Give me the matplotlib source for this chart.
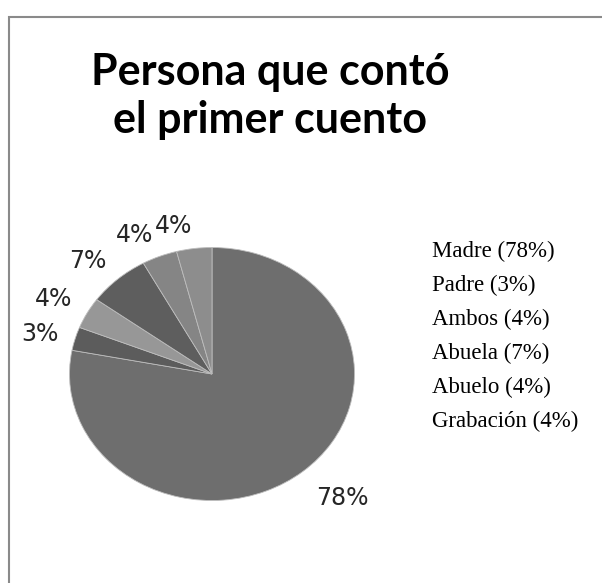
import numpy as np
import matplotlib.pyplot as plt
from matplotlib.patches import Rectangle

# share of people who told the first story
personas = ["Madre", "Padre", "Ambos", "Abuela", "Abuelo", "Grabación"]
porcentajes = [78, 3, 4, 7, 4, 4]
colores = ["#6e6e6e", "#5c5c5c", "#979797", "#5e5e5e", "#858585", "#8d8d8d"]
titulo = "Persona que contó\nel primer cuento"

W, H = 602, 583
fig = plt.figure(figsize=(W / 100, H / 100), dpi=100)
fig.patch.set_facecolor("white")

# chart border, open to the right and bottom
fig.patches.append(Rectangle((8.5 / W, -0.1), 1.2, 1.1 - 16.5 / H,
                             transform=fig.transFigure, fill=False,
                             edgecolor="#8a8a8a", linewidth=1.5))

fig.text(270 / W, 1 - 96 / H, titulo, ha="center", va="center",
         fontsize=31, fontweight="bold", family="Lato", color="black",
         linespacing=1.22)

# pie is slightly flattened, so the axes is not square
cx, cy, rx, ry = 212, 374, 142.5, 126.5
ax = fig.add_axes([(cx - rx) / W, (H - cy - ry) / H, 2 * rx / W, 2 * ry / H])
wedges, _ = ax.pie(porcentajes, colors=colores, startangle=90,
                   counterclock=False, radius=1,
                   wedgeprops=dict(edgecolor="#bdbdbd", linewidth=0.6))
ax.set_xlim(-1, 1)
ax.set_ylim(-1, 1)
ax.set_aspect("auto")
ax.axis("off")

# outside labels: nearest corner of the text sits just off the rim
for w, v in zip(wedges, porcentajes):
    ang = np.deg2rad((w.theta1 + w.theta2) / 2)
    c, s = np.cos(ang), np.sin(ang)
    ha = "left" if c > 0.1 else ("right" if c < -0.1 else "center")
    if s > 0.3:
        va, r = "baseline", 1.12
    elif s < -0.3:
        va, r = "top", 1.15
    else:
        va, r = "center", 1.12
    ax.text(r * c, r * s, f"{v}%", ha=ha, va=va, fontsize=17,
            color="#262626", family="DejaVu Sans")

# legend is plain text, no swatches
for i, (p, v) in enumerate(zip(personas, porcentajes)):
    fig.text(432 / W, 1 - (251 + 34 * i) / H, f"{p} ({v}%)",
             ha="left", va="center", family="Liberation Serif",
             fontsize=16.5, color="black")

fig.savefig("out.png", dpi=100, facecolor="white")
